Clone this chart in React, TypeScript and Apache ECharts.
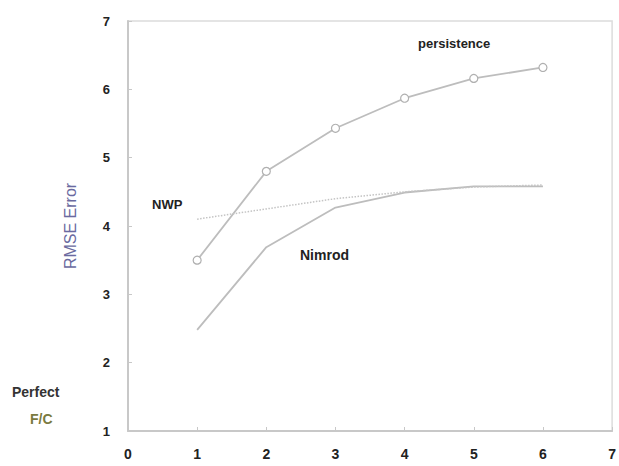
import React, { useEffect, useRef } from "react";
import * as echarts from "echarts";

const leadTimes = [1, 2, 3, 4, 5, 6];
const persistence = [3.5, 4.8, 5.43, 5.87, 6.16, 6.32];
const nimrod = [2.48, 3.69, 4.27, 4.49, 4.58, 4.58];
const nwp = [4.1, 4.25, 4.4, 4.5, 4.57, 4.6];

export default function App() {
  const ref = useRef<HTMLDivElement>(null);
  useEffect(() => {
    if (!ref.current) return;
    const chart = echarts.init(ref.current, undefined, { renderer: "svg" });
    const pair = (arr: number[]) => leadTimes.map((x, i) => [x, arr[i]]);
    chart.setOption({
      animation: false,
      backgroundColor: "#ffffff",
      grid: { left: 128, right: 0, top: 21, bottom: 35, show: true, borderColor: "#dcdcdc", borderWidth: 1.5 },
      xAxis: {
        type: "value",
        min: 0,
        max: 7,
        interval: 1,
        axisLine: { show: true, lineStyle: { color: "#c8c8c8", width: 2 } },
        axisTick: { show: true, inside: true, length: 4, lineStyle: { color: "#c8c8c8" } },
        axisLabel: { color: "#222", fontSize: 14, fontWeight: "bold", fontFamily: "Liberation Sans", margin: 16 },
        splitLine: { show: false },
      },
      yAxis: {
        type: "value",
        min: 1,
        max: 7,
        interval: 1,
        name: "RMSE Error",
        nameLocation: "middle",
        nameGap: 50,
        nameTextStyle: { color: "#6a6aa0", fontSize: 16, fontFamily: "Liberation Sans" },
        axisLine: { show: true, lineStyle: { color: "#c8c8c8", width: 2 } },
        axisTick: { show: true, inside: true, length: 4, lineStyle: { color: "#c8c8c8" } },
        axisLabel: { color: "#222", fontSize: 13, fontWeight: "bold", fontFamily: "Liberation Sans", margin: 18 },
        splitLine: { show: false },
      },
      series: [
        {
          name: "persistence",
          type: "line",
          data: pair(persistence),
          symbol: "circle",
          symbolSize: 8,
          itemStyle: { color: "#ffffff", borderColor: "#b0b0b0", borderWidth: 1.2 },
          lineStyle: { color: "#bdbdbd", width: 1.8 },
        },
        {
          name: "Nimrod",
          type: "line",
          data: pair(nimrod),
          symbol: "none",
          lineStyle: { color: "#bdbdbd", width: 1.8 },
        },
        {
          name: "NWP",
          type: "line",
          data: pair(nwp),
          symbol: "none",
          lineStyle: { color: "#c4c4c4", width: 1.5, type: "dotted" },
        },
      ],
      graphic: [
        { type: "text", left: 418, top: 37, style: { text: "persistence", fill: "#222", font: "bold 13px Liberation Sans" } },
        { type: "text", left: 300, top: 248, style: { text: "Nimrod", fill: "#222", font: "bold 14px Liberation Sans" } },
        { type: "text", left: 152, top: 198, style: { text: "NWP", fill: "#222", font: "bold 13px Liberation Sans" } },
        { type: "text", left: 12, top: 385, style: { text: "Perfect", fill: "#333", font: "bold 14px Liberation Sans" } },
        { type: "text", left: 30, top: 412, style: { text: "F/C", fill: "#7a7a40", font: "bold 14px Liberation Sans" } },
      ],
    });
    return () => chart.dispose();
  }, []);
  return <div ref={ref} style={{ position: "absolute", left: 0, top: 0, width: 619, height: 466 }} />;
}
